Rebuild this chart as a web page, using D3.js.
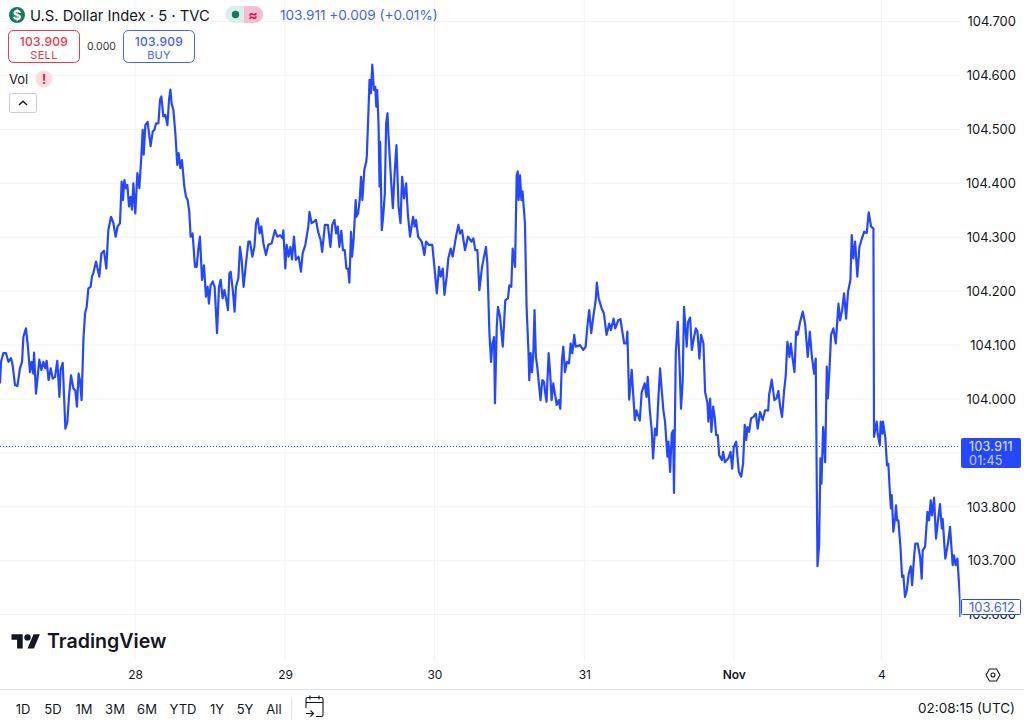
<!DOCTYPE html>
<html><head><meta charset="utf-8">
<script src="https://cdnjs.cloudflare.com/ajax/libs/d3/7.8.5/d3.min.js"></script>
<style>
html,body{margin:0;padding:0;background:#fff;overflow:hidden}
svg{display:block;font-family:Inter,"Noto Sans",sans-serif}
text{fill:#131722}
</style></head><body>
<svg id="c" width="1024" height="725"></svg>
<script>
const dayTicks=[0,1,2,3,4,5];
const dayLabels=["28","29","30","31","Nov","4"];
const priceTicks=[103.6,103.7,103.8,103.9,104.0,104.1,104.2,104.3,104.4,104.5,104.6,104.7];
const coveredPriceTick=103.9;
const rangeButtons=["1D","5D","1M","3M","6M","YTD","1Y","5Y","All"];
const lastPrice=103.911, endPrice=103.612;
const dayOffsets=[-.900,-.893,-.878,-.860,-.844,-.827,-.816,-.800,-.784,-.767,-.753,-.744,-.727,-.716,-.700,-.689,-.678,-.673,-.660,-.651,-.638,-.624,-.611,-.598,-.589,-.576,-.562,-.549,-.533,-.518,-.504,-.496,-.482,-.464,-.451,-.440,-.427,-.411,-.398,-.387,-.376,-.367,-.356,-.344,-.333,-.322,-.311,-.296,-.287,-.278,-.260,-.238,-.224,-.207,-.191,-.178,-.160,-.144,-.129,-.116,-.100,-.089,-.080,-.071,-.060,-.051,-.040,-.029,-.020,-.011,.002,.016,.029,.042,.051,.058,.069,.084,.096,.104,.118,.129,.140,.156,.167,.176,.189,.202,.216,.227,.236,.244,.256,.269,.282,.291,.302,.313,.329,.340,.351,.362,.371,.384,.400,.411,.424,.433,.447,.460,.473,.484,.493,.504,.518,.531,.547,.560,.571,.584,.596,.607,.620,.629,.638,.653,.664,.673,.689,.700,.711,.724,.740,.756,.767,.782,.796,.807,.818,.831,.842,.856,.873,.889,.911,.933,.949,.967,.984,.989,1.002,1.011,1.024,1.036,1.047,1.060,1.073,1.091,1.107,1.118,1.136,1.156,1.164,1.178,1.193,1.207,1.222,1.238,1.249,1.267,1.287,
1.304,1.316,1.331,1.342,1.353,1.364,1.377,1.388,1.400,1.411,1.422,1.431,1.442,1.449,1.460,1.473,1.478,1.489,1.500,1.509,1.518,1.531,1.544,1.548,1.566,1.575,1.584,1.595,1.604,1.611,1.617,1.626,1.633,1.637,1.648,1.657,1.668,1.677,1.686,1.693,1.708,1.722,1.735,1.746,1.760,1.773,1.784,1.797,1.811,1.822,1.837,1.857,1.868,1.877,1.891,1.915,1.933,1.944,1.962,1.986,2.000,2.016,2.031,2.042,2.056,2.067,2.082,2.093,2.109,2.122,2.144,2.160,2.171,2.184,2.204,2.224,2.247,2.260,2.273,2.287,2.300,2.318,2.331,2.344,2.353,2.367,2.378,2.387,2.398,2.404,2.416,2.424,2.438,2.456,2.473,2.491,2.500,2.513,2.522,2.538,2.549,2.556,2.562,2.571,2.580,2.588,2.604,2.615,2.628,2.633,2.642,2.651,2.660,2.668,2.677,2.686,2.708,2.720,2.731,2.740,2.748,2.762,2.771,2.782,2.793,2.804,2.816,2.829,2.840,2.851,2.860,2.871,2.884,2.898,2.909,2.920,2.933,2.942,2.971,2.993,3.009,3.020,3.033,3.046,3.062,3.076,3.084,3.096,3.116,3.131,3.149,3.167,3.178,3.196,3.207,3.227,3.242,3.256,3.267,3.282,3.288,3.300,3.317,3.338,3.349,3.371,3.384,3.404,3.416,3.424,3.438,3.451,3.460,
3.473,3.484,3.496,3.507,3.516,3.529,3.540,3.556,3.563,3.574,3.585,3.594,3.600,3.612,3.625,3.636,3.647,3.658,3.667,3.676,3.685,3.694,3.708,3.719,3.730,3.746,3.757,3.770,3.781,3.797,3.808,3.824,3.830,3.842,3.850,3.862,3.873,3.882,3.893,3.902,3.920,3.929,3.940,3.964,3.978,3.989,4.000,4.016,4.025,4.034,4.050,4.063,4.074,4.084,4.093,4.104,4.117,4.133,4.149,4.162,4.178,4.196,4.212,4.233,4.239,4.257,4.275,4.289,4.302,4.314,4.327,4.341,4.352,4.363,4.377,4.386,4.397,4.411,4.422,4.433,4.449,4.467,4.483,4.501,4.515,4.528,4.544,4.555,4.567,4.578,4.587,4.594,4.605,4.619,4.630,4.637,4.648,4.659,4.675,4.691,4.709,4.720,4.734,4.747,4.761,4.774,4.790,4.799,4.810,4.822,4.837,4.851,4.865,4.883,4.901,4.914,4.930,4.946,4.950,4.968,4.975,4.989,4.995,5.007,5.011,5.027,5.038,5.047,5.059,5.065,5.070,5.081,5.093,5.099,5.106,5.115,5.129,5.140,5.149,5.160,5.172,5.185,5.199,5.208,5.223,5.230,5.246,5.262,5.273,5.280,5.296,5.312,5.323,5.334,5.343,5.357,5.370,5.386,5.397,5.409,5.415,5.433,5.451,5.465,5.483,5.492,5.503,5.515,5.533,5.535];
const prices=[104.028,104.068,104.084,104.084,104.068,104.075,104.062,104.025,104.023,104.056,104.068,104.114,104.130,104.102,104.049,104.068,104.046,104.085,104.009,104.034,104.072,104.053,104.068,104.056,104.070,104.034,104.056,104.037,104.040,104.070,104.003,104.053,104.066,103.944,103.957,104.003,104.043,104.019,104.015,103.985,104.046,104.034,103.997,104.108,104.158,104.170,104.204,104.207,104.226,104.232,104.254,104.226,104.269,104.274,104.241,104.312,104.337,104.325,104.300,104.319,104.325,104.402,104.368,104.405,104.390,104.396,104.356,104.374,104.350,104.399,104.343,104.418,104.390,104.448,104.498,104.452,104.507,104.513,104.486,104.468,104.495,104.498,104.510,104.510,104.554,104.560,104.523,104.526,104.507,104.554,104.573,104.547,104.535,104.492,104.433,104.455,104.427,104.442,104.393,104.374,104.368,104.346,104.300,104.306,104.244,104.244,104.281,104.300,104.220,104.247,104.189,104.207,104.176,104.210,104.217,104.207,104.121,104.207,104.220,104.186,104.201,104.186,104.164,104.232,104.235,104.198,104.161,104.207,104.223,104.281,104.257,104.207,104.251,104.291,104.291,104.263,104.281,104.325,104.334,104.306,104.319,104.288,104.266,104.285,104.288,104.312,104.300,104.303,104.297,104.312,104.241,104.285,104.263,104.281,104.258,104.300,104.257,104.263,104.235,104.269,104.285,104.319,104.346,104.325,104.328,104.331,104.309,104.294,104.272,104.322,104.322,
104.281,104.322,104.331,104.306,104.319,104.281,104.311,104.275,104.275,104.241,104.241,104.215,104.309,104.263,104.297,104.368,104.337,104.343,104.368,104.411,104.368,104.424,104.439,104.452,104.591,104.566,104.619,104.572,104.578,104.541,104.572,104.510,104.393,104.476,104.312,104.337,104.380,104.510,104.529,104.486,104.414,104.353,104.424,104.470,104.356,104.325,104.411,104.371,104.399,104.343,104.300,104.337,104.319,104.331,104.300,104.291,104.266,104.291,104.285,104.285,104.244,104.195,104.244,104.226,104.241,104.192,104.226,104.260,104.278,104.263,104.300,104.322,104.306,104.312,104.275,104.300,104.291,104.297,104.275,104.275,104.201,104.244,104.263,104.281,104.251,104.121,104.068,104.102,104.114,103.991,104.133,104.170,104.152,104.096,104.182,104.186,104.210,104.207,104.278,104.244,104.414,104.421,104.368,104.414,104.368,104.384,104.325,104.170,104.084,104.034,104.084,104.049,104.084,104.164,104.077,104.059,103.997,104.034,104.031,104.009,103.994,104.084,104.053,103.997,104.028,104.009,103.988,103.997,103.981,104.071,104.096,104.049,104.068,104.065,104.102,104.084,104.118,104.096,104.099,104.090,104.096,104.133,104.164,104.121,104.155,104.182,104.215,104.186,104.167,104.158,104.118,104.139,104.127,104.148,104.130,104.145,104.147,104.121,104.102,104.102,104.124,103.998,104.053,103.960,103.978,103.959,104.012,104.028,104.003,104.040,103.978,103.941,103.889,
103.944,103.932,104.003,104.056,104.022,103.978,103.957,103.892,103.920,103.864,103.935,103.941,103.825,104.084,104.142,104.071,103.981,104.031,104.170,104.133,104.096,104.142,104.150,104.090,104.108,104.130,104.124,104.074,104.118,104.102,104.012,103.991,103.957,104.000,103.938,103.985,103.963,103.932,103.932,103.895,103.886,103.901,103.882,103.889,103.901,103.870,103.910,103.920,103.892,103.864,103.855,103.879,103.951,103.923,103.947,103.938,103.963,103.966,103.972,103.944,103.975,103.960,103.978,103.978,104.006,104.035,103.997,104.000,104.014,103.985,103.966,104.015,104.043,104.105,104.077,104.102,104.077,104.049,104.124,104.118,104.142,104.161,104.139,104.077,104.124,104.080,104.046,104.074,103.689,103.728,103.889,103.842,103.947,103.882,104.059,104.000,104.053,104.118,104.130,104.102,104.176,104.145,104.164,104.195,104.148,104.198,104.220,104.303,104.260,104.291,104.226,104.281,104.294,104.309,104.307,104.345,104.319,104.315,103.929,103.957,103.935,103.913,103.957,103.935,103.957,103.926,103.876,103.879,103.818,103.796,103.821,103.753,103.780,103.802,103.774,103.774,103.725,103.669,103.672,103.632,103.644,103.675,103.689,103.654,103.712,103.731,103.731,103.706,103.666,103.719,103.725,103.790,103.774,103.811,103.783,103.816,103.740,103.780,103.804,103.759,103.777,103.703,103.731,103.762,103.691,103.709,103.691,103.703,103.626,103.595];

const BLUE="#2548ff", RED="#f23645", GRID="#f1f2f5", TXT="#131722";
const svg=d3.select("#c");
const x=d3.scaleLinear().domain(dayTicks).range([135,285,434.4,584.3,733.8,881.4]);
const y=d3.scaleLinear().domain([103.6,104.7]).range([614.2,21]);
const paneRight=960, paneBottom=661;

// grid
svg.append("g").selectAll("line").data(priceTicks).join("line")
  .attr("x1",0).attr("x2",paneRight).attr("y1",d=>y(d)+.5).attr("y2",d=>y(d)+.5).attr("stroke",GRID);
svg.append("g").selectAll("line").data(dayTicks).join("line")
  .attr("y1",0).attr("y2",paneBottom).attr("x1",d=>x(d)).attr("x2",d=>x(d)).attr("stroke",GRID);

// last price line
svg.append("line").attr("x1",0).attr("x2",paneRight).attr("y1",y(lastPrice)).attr("y2",y(lastPrice))
  .attr("stroke",BLUE).attr("stroke-width",1).attr("stroke-dasharray","1 2");

// series
const defs=svg.append("defs");
defs.append("clipPath").attr("id","pane").append("rect").attr("width",paneRight+.5).attr("height",paneBottom);
const line=d3.line().x(d=>x(d[0])).y(d=>y(d[1]));
svg.append("path").datum(d3.zip(dayOffsets,prices)).attr("d",line)
  .attr("clip-path","url(#pane)").attr("fill","none").attr("stroke",BLUE).attr("stroke-width",2.2).attr("stroke-linejoin","round");

// axes
const ay=svg.append("g").attr("transform","translate(1016,0)")
  .call(d3.axisLeft(y).tickValues(priceTicks.filter(d=>d!==coveredPriceTick)).tickFormat(d3.format(".3f")).tickSize(0).tickPadding(0));
ay.select(".domain").remove();
ay.selectAll("text").attr("font-size",13).attr("font-family","Inter").attr("fill",TXT).attr("dy",".36em");
const ax=svg.append("g").attr("transform","translate(0,670)")
  .call(d3.axisBottom(x).tickValues(dayTicks).tickFormat((d,i)=>dayLabels[i]).tickSize(0).tickPadding(0));
ax.select(".domain").remove();
ax.selectAll("text").attr("font-size",12).attr("font-family","Inter").attr("fill",TXT)
  .attr("font-weight",(d,i)=>dayLabels[i]==="Nov"?600:400);

// price labels
svg.append("rect").attr("x",961).attr("y",438).attr("width",60).attr("height",30).attr("rx",2).attr("fill",BLUE);
const t=(s,xx,yy,o={})=>{const e=svg.append("text").attr("x",xx).attr("y",yy).text(s)
  .attr("font-size",o.size||13).style("fill",o.fill||TXT).attr("text-anchor",o.anchor||"start");
  if(o.weight)e.attr("font-weight",o.weight);if(o.ls)e.attr("letter-spacing",o.ls);return e;};
t(d3.format(".3f")(lastPrice),969,450.5,{fill:"#e6eaff",size:12.5,ls:".3"});
t("01:45",969,465,{fill:"#c4cffd",size:12.5,ls:".3"});
svg.append("rect").attr("x",961.5).attr("y",599.5).attr("width",59).attr("height",15).attr("rx",1).attr("fill","#fff").attr("stroke",BLUE);
t(d3.format(".3f")(endPrice),969,611.5,{fill:"#3f62ff"});

// header
svg.append("circle").attr("cx",17).attr("cy",15).attr("r",8).attr("fill","#17795e");
t("$",17,20,{fill:"#fff",size:13,anchor:"middle",weight:700});
t("U.S. Dollar Index · 5 · TVC",30,20.5,{size:14.8});
svg.append("path").attr("d","M244 6h-10a8.5 8.5 0 0 0 0 17h10z").attr("fill","#d9efe9");
svg.append("path").attr("d","M244 6h10.5a8.5 8.5 0 0 1 0 17H244z").attr("fill","#f9bdd3");
svg.append("circle").attr("cx",235.5).attr("cy",14.5).attr("r",3.7).attr("fill","#17795e");
t("≈",253,19.5,{size:14,fill:"#e0115f",anchor:"middle",weight:700});
t("103.911 +0.009 (+0.01%)",280,19.5,{size:13.6,fill:"#3f62ff"});

const btn=(xx,w,c,a,b)=>{svg.append("rect").attr("x",xx+.5).attr("y",30.5).attr("width",w).attr("height",32).attr("rx",5).attr("fill","#fff").attr("stroke",c);
  t(a,xx+w/2+.5,46,{size:12,fill:c,anchor:"middle",weight:500,ls:".3"});
  t(b,xx+w/2+.5,59,{size:11,fill:c,anchor:"middle",ls:".3"});};
btn(8,71,RED,"103.909","SELL");
btn(123,71,"#3f62ff","103.909","BUY");
t("0.000",87,50,{size:10.5,fill:"#333"});
t("Vol",9,84,{size:13});
svg.append("circle").attr("cx",44).attr("cy",79).attr("r",8.5).attr("fill","#fddde0");
t("!",44,83.5,{size:12.5,fill:"#d8213a",anchor:"middle",weight:700});
svg.append("rect").attr("x",9.5).attr("y",93.5).attr("width",27).attr("height",19).attr("rx",2).attr("fill","#fff").attr("stroke","#c9ccd6");
svg.append("path").attr("d","M19 105l4-3.7 4 3.7").attr("fill","none").attr("stroke",TXT).attr("stroke-width",1.4);

// logo
const lg=svg.append("g").attr("transform","translate(11.5,631) scale(.8)").attr("fill","#131722");
lg.append("path").attr("d","M14 22H7V11H0V4h14v18zM28 22h-8l7.5-18h8L28 22z");
lg.append("circle").attr("cx",20).attr("cy",8).attr("r",4);
t("TradingView",47,648,{size:19.6,weight:600});

// bottom bar
svg.append("line").attr("x1",0).attr("x2",1024).attr("y1",689.5).attr("y2",689.5).attr("stroke","#e0e3eb");
const bx=[23,53,84,115,147,183,217,245,274];
svg.append("g").selectAll("text").data(rangeButtons).join("text")
  .attr("x",(d,i)=>bx[i]).attr("y",714).attr("text-anchor","middle").attr("font-size",13).text(d=>d);
svg.append("line").attr("x1",291.5).attr("x2",291.5).attr("y1",698).attr("y2",719).attr("stroke","#e0e3eb");
svg.append("path").attr("d","M306 708v-9a1.5 1.5 0 0 1 1.5-1.5h14a1.5 1.5 0 0 1 1.5 1.5v16a1.5 1.5 0 0 1-1.5 1.5H316M306 702.5h17M310 695.5v4M319 695.5v4M306 713.5h7M310.5 710.5l3 3-3 3")
  .attr("fill","none").attr("stroke",TXT).attr("stroke-width",1.1);
t("02:08:15 (UTC)",1015,713,{size:13.5,anchor:"end"});
svg.append("path").attr("d","M989.5 669h7l3.5 6-3.5 6h-7l-3.5-6z").attr("fill","none").attr("stroke",TXT).attr("stroke-width",1.1).attr("stroke-linejoin","round");
svg.append("circle").attr("cx",993).attr("cy",675).attr("r",2).attr("fill","none").attr("stroke",TXT).attr("stroke-width",1.1);
</script>
</body></html>
